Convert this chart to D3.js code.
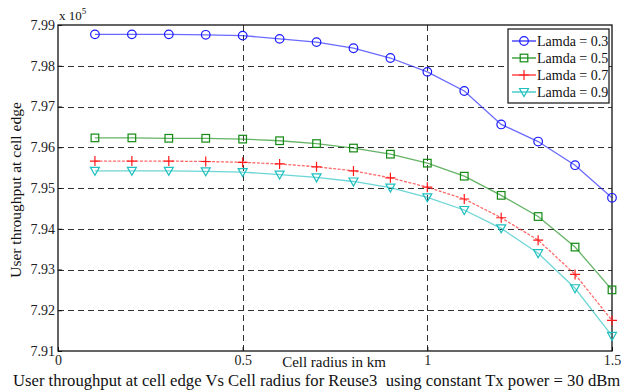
<!DOCTYPE html>
<html>
<head>
<meta charset="utf-8">
<script src="https://cdn.jsdelivr.net/npm/d3@7"></script>
<style>
  body { margin: 0; background: #fff; }
</style>
</head>
<body>
<div id="chart"></div>
<script>
const radius = [0.1, 0.2, 0.3, 0.4, 0.5, 0.6, 0.7, 0.8, 0.9, 1.0, 1.1, 1.2, 1.3, 1.4, 1.5];
const lamda03 = [7.9877, 7.9877, 7.9877, 7.9876, 7.9874, 7.9866, 7.9858, 7.9843, 7.9819, 7.9785, 7.9738, 7.9656, 7.9614, 7.9556, 7.9476];
const lamda05 = [7.9623, 7.9623, 7.9622, 7.9622, 7.9620, 7.9616, 7.9609, 7.9598, 7.9583, 7.9561, 7.9529, 7.9482, 7.9430, 7.9355, 7.9250];
const lamda07 = [7.9566, 7.9566, 7.9566, 7.9565, 7.9563, 7.9559, 7.9552, 7.9542, 7.9525, 7.9502, 7.9473, 7.9427, 7.9372, 7.9288, 7.9175];
const lamda09 = [7.9542, 7.9542, 7.9542, 7.9541, 7.9539, 7.9533, 7.9526, 7.9516, 7.9501, 7.9477, 7.9446, 7.9401, 7.9340, 7.9254, 7.9137];
const xTicks = [0, 0.5, 1, 1.5];
const xTickLabels = ["0", "0.5", "1", "1.5"];
const yTicks = [7.91, 7.92, 7.93, 7.94, 7.95, 7.96, 7.97, 7.98, 7.99];

const series = [
  { name: "Lamda = 0.3", values: lamda03, color: "#1a1aff", marker: "circle" },
  { name: "Lamda = 0.5", values: lamda05, color: "#138a13", marker: "square" },
  { name: "Lamda = 0.7", values: lamda07, color: "#ff1a1a", marker: "plus" },
  { name: "Lamda = 0.9", values: lamda09, color: "#1fbfbf", marker: "tri" }
];

const width = 631, height = 392;
const m = { left: 58, right: 19, top: 25, bottom: 41 };
const FONT = '"Liberation Serif"';

const svg = d3.select("#chart").append("svg")
  .attr("width", width)
  .attr("height", height)
  .attr("font-family", FONT);

const x = d3.scaleLinear().domain([0, 1.5]).range([m.left, width - m.right]);
const y = d3.scaleLinear().domain([7.91, 7.99]).range([height - m.bottom, m.top]);

// grid
const grid = svg.append("g")
  .attr("stroke", "#333")
  .attr("stroke-width", 1)
  .attr("stroke-dasharray", "6,4");
grid.selectAll(".gy").data(yTicks.slice(1, -1)).enter().append("line")
  .attr("x1", x(0)).attr("x2", x(1.5))
  .attr("y1", d => Math.round(y(d)) + 0.5).attr("y2", d => Math.round(y(d)) + 0.5);
grid.selectAll(".gx").data(xTicks.slice(1, -1)).enter().append("line")
  .attr("y1", y(7.91)).attr("y2", y(7.99))
  .attr("x1", d => Math.round(x(d)) + 0.5).attr("x2", d => Math.round(x(d)) + 0.5);

// axes
const yAxis = svg.append("g")
  .attr("transform", `translate(${x(0)},0)`)
  .call(d3.axisLeft(y).tickValues(yTicks).tickSize(-4).tickPadding(3).tickFormat(d3.format(".2f")));
const xAxis = svg.append("g")
  .attr("transform", `translate(0,${y(7.91)})`)
  .call(d3.axisBottom(x).tickValues(xTicks).tickSize(-4).tickPadding(2).tickFormat((d, i) => xTickLabels[i]));
[xAxis, yAxis].forEach(a => {
  a.attr("font-family", FONT).attr("font-size", 14);
  a.select(".domain").remove();
  a.selectAll("line").attr("stroke", "#111");
  a.selectAll("text").attr("fill", "#222");
});
xAxis.selectAll("text").attr("dy", "0.85em");

svg.append("rect")
  .attr("x", x(0)).attr("y", y(7.99))
  .attr("width", x(1.5) - x(0)).attr("height", y(7.91) - y(7.99))
  .attr("fill", "none").attr("stroke", "#111").attr("stroke-width", 1.3);

// lines
const line = d3.line().x((d, i) => x(radius[i])).y(d => y(d)).curve(d3.curveLinear);
const marker = (g, type, color) => {
  if (type === "circle") g.append("circle").attr("r", 4.3);
  if (type === "square") g.append("rect").attr("x", -3.8).attr("y", -3.8).attr("width", 7.6).attr("height", 7.6);
  if (type === "plus") g.append("path").attr("d", "M-5,0H5M0,-5V5");
  if (type === "tri") g.append("path").attr("d", "M-4.5,-3.5L4.5,-3.5L0,4.5Z");
  g.selectAll("*").attr("fill", "none").attr("stroke", color).attr("stroke-width", 1.2);
};

series.forEach(s => {
  svg.append("path")
    .datum(s.values)
    .attr("d", line)
    .attr("fill", "none")
    .attr("stroke", s.color)
    .attr("stroke-opacity", 0.65)
    .attr("stroke-width", 1.3)
    .attr("stroke-dasharray", s.marker === "plus" ? "3,1.5" : null);
  s.values.forEach((v, i) => {
    const g = svg.append("g").attr("transform", `translate(${x(radius[i])},${y(v)})`);
    marker(g, s.marker, s.color);
  });
});

// legend
const lg = svg.append("g").attr("transform", "translate(508,29)");
lg.append("rect").attr("width", 101).attr("height", 74)
  .attr("fill", "#fff").attr("stroke", "#111").attr("stroke-width", 1.2);
series.forEach((s, i) => {
  const row = lg.append("g").attr("transform", `translate(0,${12 + i * 17})`);
  row.append("line").attr("x1", 4).attr("x2", 28).attr("y1", 0).attr("y2", 0)
    .attr("stroke", s.color).attr("stroke-width", 1.2);
  const mg = row.append("g").attr("transform", "translate(16,0)");
  marker(mg, s.marker, s.color);
  row.append("text").attr("x", 29).attr("y", 5).attr("font-size", 14).attr("fill", "#111").text(s.name);
});

// labels
svg.append("text").attr("x", 59).attr("y", 20).attr("font-size", 13).attr("fill", "#111")
  .html('x 10<tspan dy="-6" font-size="9">5</tspan>');
svg.append("text")
  .attr("transform", "translate(21,190) rotate(-90)")
  .attr("text-anchor", "middle").attr("font-size", 15.5).attr("fill", "#111")
  .text("User throughput at cell edge");
svg.append("text").attr("x", 334).attr("y", 367).attr("text-anchor", "middle")
  .attr("font-size", 15).attr("fill", "#111").text("Cell radius in km");
svg.append("text").attr("x", 13).attr("y", 386)
  .attr("font-size", 16.65).attr("fill", "#111")
  .attr("xml:space", "preserve")
  .text("User throughput at cell edge Vs Cell radius for Reuse3  using constant Tx power = 30 dBm");
</script>
</body>
</html>
